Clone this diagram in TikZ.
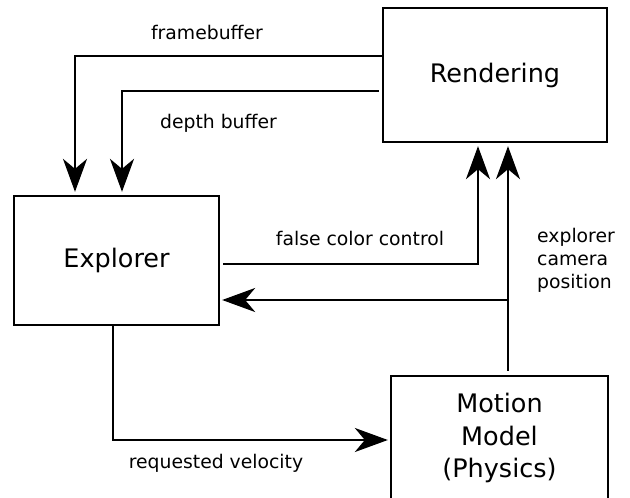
\documentclass[tikz,border=0pt]{standalone}
\usepackage{fontspec}
\setmainfont{DejaVu Sans}
\usetikzlibrary{arrows.meta}
\begin{document}
\begin{tikzpicture}[x=1pt,y=-1pt,
  box/.style={draw,line width=2.3pt,inner sep=0pt,font=\fontsize{25.5}{32.5}\selectfont,align=center},
  lbl/.style={font=\fontsize{18.8}{23}\selectfont,inner sep=0pt},
  arr/.style={line width=2.3pt,-{Stealth[length=33pt,width=24pt,inset=10pt]}},
  ln/.style={line width=2.3pt}]
\clip (0,0) rectangle (630,498);
\useasboundingbox (0,0) rectangle (630,498);
\node[box,minimum width=224pt,minimum height=134pt] (rend) at (495,75) {Rendering};
\node[box,minimum width=205pt,minimum height=129pt] (expl) at (116.5,260.5) {Explorer};
\node[box,minimum width=217pt,minimum height=124pt] (mot) at (499.5,438) {Motion\\Model\\(Physics)};
% framebuffer
\draw[arr,shorten >=3pt] (rend.west |- 0,56) -| (expl.north -| 75,0);
\node[lbl] (fbl) at (207,32) {framebuffer};
% depth buffer
\draw[arr,shorten >=3pt,shorten <=3pt] (rend.west |- 0,91) -| (expl.north -| 122,0);
\node[lbl] (dbl) at (218.5,123) {depth buffer};
% false color control
\draw[arr,shorten >=3pt,shorten <=3pt] (expl.east |- 0,264) -| (rend.south -| 478,0);
\node[lbl] (fcl) at (360,238) {false color control};
% explorer camera position
\coordinate (j) at (508,300);
\draw[arr,shorten >=3pt,shorten <=4pt] (mot.north -| 508,0) -- (rend.south -| 508,0);
\draw[arr,shorten >=2pt] (j) -- (expl.east |- j);
\node[lbl,align=left,anchor=west] (ecl) at (537,260) {explorer\\camera\\position};
% requested velocity
\draw[arr,shorten >=2pt] (expl.south -| 113,0) |- (mot.west |- 0,440);
\node[lbl] (rvl) at (216,463) {requested velocity};
\end{tikzpicture}
\end{document}
